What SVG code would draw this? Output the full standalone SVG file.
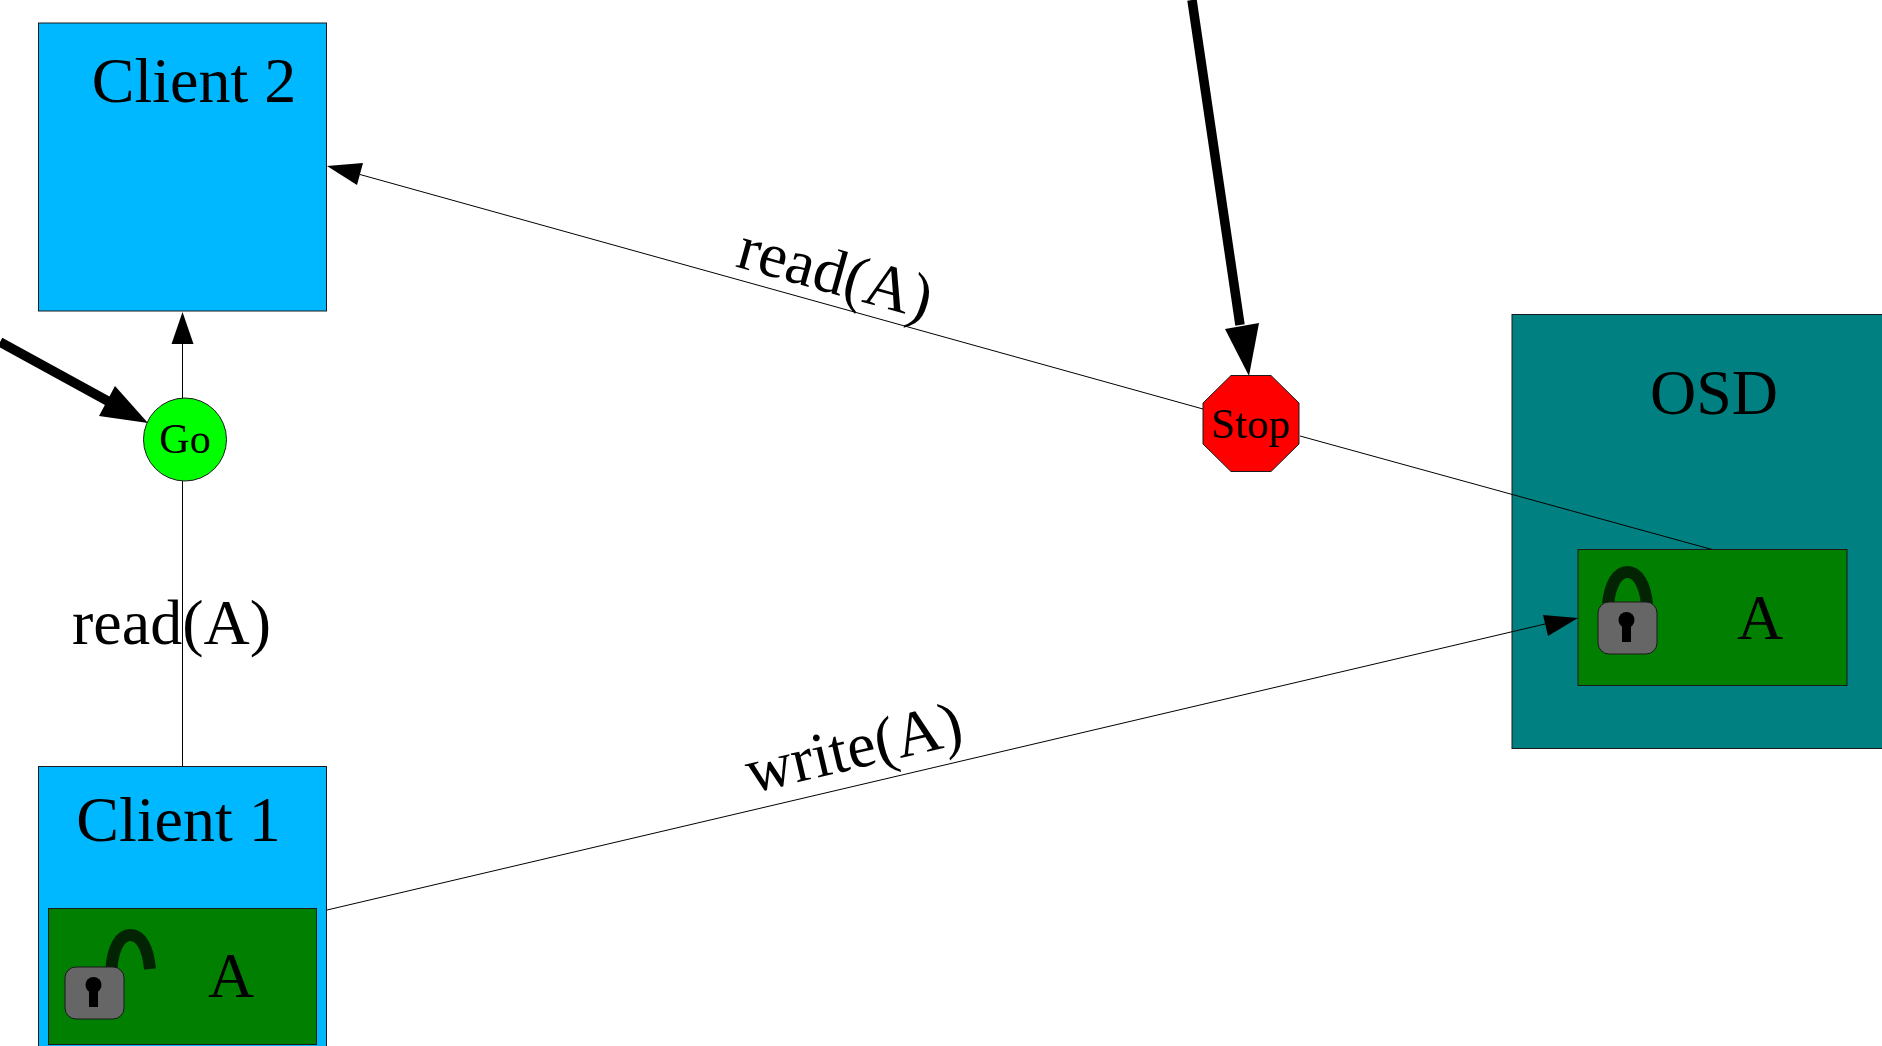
<svg xmlns="http://www.w3.org/2000/svg" width="1882" height="1046" viewBox="0 0 1882 1046">
<defs>
<g id="body"><rect x="0" y="0" width="59" height="52" rx="11" fill="#666666" stroke="#1a1a1a" stroke-width="1"/><circle cx="28.500" cy="18" r="8" fill="#000"/><rect x="24" y="18" width="9" height="22" fill="#000"/></g>
</defs>
<style>
text{font-family:"Liberation Serif","Times New Roman",serif;fill:#000}
.node{stroke:#1a1a1a;stroke-width:1}
.t{font-size:64px;text-anchor:middle}
.e{fill:none;stroke:#000;stroke-width:1}
.h{fill:#000;stroke:none}
.sh{fill:none;stroke:#022402;stroke-width:12}
.b{fill:none;stroke:#000;stroke-width:9.500}
</style>
<rect width="1882" height="1046" fill="#fff"/>
<g id="client2"><rect class="node" x="38.500" y="23" width="288" height="288" fill="#00b8ff"/><text class="t" x="194" y="102">Client 2</text></g>
<g id="client1"><rect class="node" x="38.500" y="766.500" width="288" height="290" fill="#00b8ff"/><text class="t" x="178.500" y="841">Client 1</text>
<g id="client1-a"><rect class="node" x="48.500" y="908.500" width="268" height="136" fill="#007f00"/><text class="t" x="231" y="997">A</text>
<path class="sh" d="M111.500 968C113 948 120 935 130.500 935C141 935 148 948 150 969"/><use href="#body" x="65" y="967"/></g></g>
<g id="osd"><rect class="node" x="1512" y="314.500" width="390" height="434" fill="#008080"/><text class="t" x="1714" y="414">OSD</text>
<g id="osd-a"><rect class="node" x="1578" y="549.500" width="269" height="136" fill="#007f00"/><text class="t" x="1760" y="639">A</text>
<path class="sh" d="M1608 604C1610 585 1617 572 1627.500 572C1638 572 1645 585 1647 604"/><use href="#body" x="1598" y="602"/></g></g>
<g id="go"><circle class="node" cx="185" cy="439.500" r="41.500" fill="#00ff00"/><text x="185" y="453" font-size="42" text-anchor="middle">Go</text></g>
<g id="stop"><polygon class="node" points="1231,375.500 1271,375.500 1299,403 1299,444 1271,471.500 1231,471.500 1203,444 1203,403" fill="#ff0000"/><text x="1250.500" y="438" font-size="43" text-anchor="middle">Stop</text></g>
<g id="connectors">
<path class="e" d="M182.500 766V481M182.500 398V343"/><polygon class="h" points="182.500,312 193.500,344 171.500,344"/>
<path class="e" d="M1712 549.500L1300 436M1203 409L360 174.500"/><polygon class="h" points="327,166 363,163 357,185"/>
<path class="e" d="M327 910L1545 624"/><polygon class="h" points="1578,618 1548,636 1543,615"/>
<path class="b" d="M0 342L115 405"/><polygon class="h" points="148,423 99,416 115,386"/>
<path class="b" d="M1192 0L1240 325"/><polygon class="h" points="1249,376 1225,329 1259,323"/>
</g>
<g id="labels">
<text class="t" x="171.500" y="644">read(A)</text>
<text class="t" transform="translate(830 293) rotate(15.600)">read(A)</text>
<text class="t" transform="translate(858.500 768) rotate(-13.200)">write(A)</text>
</g>
</svg>
